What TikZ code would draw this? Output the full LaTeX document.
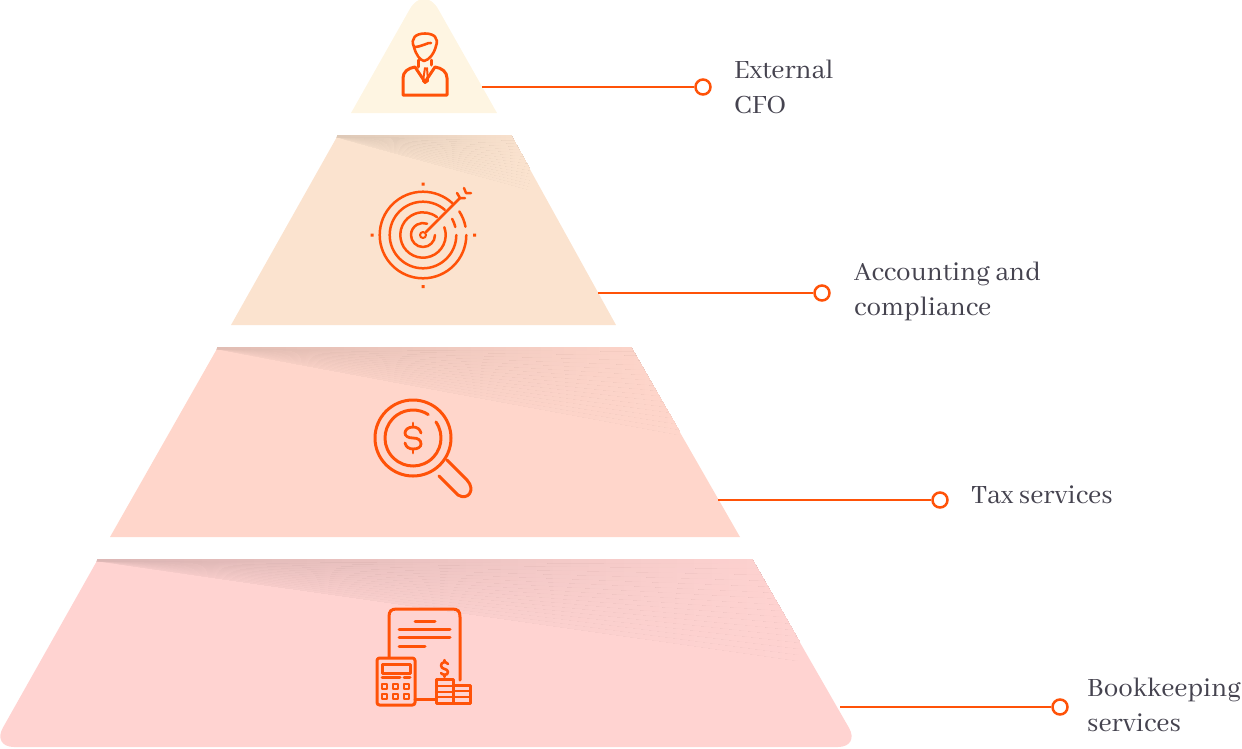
\documentclass[tikz,border=0pt]{standalone}
\usepackage{fontspec}
\setmainfont{Abhaya Libre}
\definecolor{ic}{HTML}{FF5208}
\definecolor{txt}{HTML}{45434F}
\definecolor{ta}{HTML}{FEF5E2}
\definecolor{tb}{HTML}{FBE3CF}
\definecolor{tc}{HTML}{FFD6CB}
\definecolor{td}{HTML}{FFD3D1}
\tikzset{
  conn/.style={draw=ic,line width=2.5pt},
  dot/.style={circle,draw=ic,line width=2.5pt,fill=white,minimum size=15pt,inner sep=0pt},
  lab/.style={anchor=north west,align=left,text=txt,font=\fontsize{29}{35}\selectfont,inner sep=0pt},
  ico/.style={draw=ic,line width=3pt,line cap=round,line join=round},
}
% soft shadow: nested wedges from the top-left corner, darkening upward and fading to the right
% args: tier colour, x0, y0, x1, height, strength in percent
\newcommand{\tiershadow}[6]{%
  \foreach \t in {1,.94,.88,.82,.76,.7,.64,.58,.52,.46,.4,.34,.28,.22,.16,.1,.05}{%
    \begin{scope}
      \clip (#2,#3) -- (#4,#3) -- (#4,{#3+#5*\t}) -- (#2,{#3+2}) -- cycle;
      \foreach \u in {0,.025,...,.975}{%
        \pgfmathsetmacro{\aa}{100-#6*(1-.7*\t)*(1-\u)}%
        \fill[#1!\aa!black] ({#2+\u*(#4-#2)},#3) rectangle (#4,{#3+#5});
      }
    \end{scope}
  }%
}
\begin{document}
\begin{tikzpicture}[x=1pt,y=-1pt]
\useasboundingbox (0,0) rectangle (1242,748);
% tiers
\fill[ta] (351,113) [rounded corners=29pt] -- (424,-16) [sharp corners] -- (497,113) -- cycle;
\fill[tb] (338,135) -- (511,135) -- (616,325) -- (231,325) -- cycle;
\fill[tc] (218,347) -- (631,347) -- (740,537) -- (110,537) -- cycle;
\fill[td] (98,559) -- (752,559) [rounded corners=22pt] -- (860,747) -- (-8,747) [sharp corners] -- cycle;
% shadows
\begin{scope}
\clip (338,135) -- (511,135) -- (616,325) -- (231,325) -- cycle;
\tiershadow{tb}{336}{135}{530}{55}{12}
\end{scope}
\begin{scope}
\clip (218,347) -- (631,347) -- (740,537) -- (110,537) -- cycle;
\tiershadow{tc}{216}{347}{680}{88}{12}
\end{scope}
\begin{scope}
\clip (98,559) -- (752,559) -- (860,747) -- (-8,747) -- cycle;
\tiershadow{td}{96}{559}{800}{102}{14}
\end{scope}
% connectors
\coordinate (e1) at (482,87);
\coordinate (e2) at (598,293);
\coordinate (e3) at (718,500);
\coordinate (e4) at (840,707);
\node[dot] (d1) at (703,87) {};
\node[dot] (d2) at (822,293) {};
\node[dot] (d3) at (940,500) {};
\node[dot] (d4) at (1060,707) {};
\draw[conn] (e1) -- (d1);
\draw[conn] (e2) -- (d2);
\draw[conn] (e3) -- (d3);
\draw[conn] (e4) -- (d4);
% labels
\node[lab] (l1) at (734,60) {External\\CFO};
\node[lab] (l2) at (854,262) {Accounting and\\compliance};
\node[lab] (l3) at (971,486) {Tax services};
\node[lab] (l4) at (1087,678) {Bookkeeping\\services};
% person icon
\draw[ico] (403,95) -- (403,78) .. controls (403,72) and (408,68) .. (415,67) -- (425,82) -- (435,67) .. controls (442,68) and (447,72) .. (447,78) -- (447,95) -- cycle;
\draw[ico] (418,60) -- (418,67) (431,60) -- (431,65);
\draw[ico,line width=2.6pt] (414,47) .. controls (410,38) and (416,33.5) .. (425,33.5) .. controls (434,33.5) and (439,38) .. (436,46) (414,47) .. controls (422,47) and (428,42) .. (431,43);
\draw[ico,line width=2.6pt] (414,47) .. controls (416,55) and (420,60) .. (424,61) .. controls (429,60) and (434,54) .. (436,46);
\draw[ico,line width=2pt] (425,68) -- (423,81) -- (425,83) -- (428,81) -- (427,68);
% target icon
\begin{scope}[shift={(423,235)},ico/.append style={line width=2.5pt}]
\draw[ico] (3,-3) -- (37,-37);
\draw[ico,line width=2pt] (0,0) circle (3);
\draw[ico] (0:12) arc[start angle=0,end angle=290,radius=12];
\draw[ico] (-20:22.7) arc[start angle=-20,end angle=308,radius=22.7];
\draw[ico] (0:33.3) arc[start angle=0,end angle=311,radius=33.3];
\draw[ico] (-29:33.3) arc[start angle=-29,end angle=-14,radius=33.3];
\draw[ico] (0:43.3) arc[start angle=0,end angle=313,radius=43.3];
\draw[ico] (-33:43.3) arc[start angle=-33,end angle=-11,radius=43.3];
\draw[ico] (34,-42) -- (37,-37) -- (42,-37) (41,-47) -- (43,-42) -- (48,-42);
\fill[ic] (-1.5,-52.5) rectangle (1.5,-49.5) (-1.5,50) rectangle (1.5,53) (-52.5,-1.5) rectangle (-49.5,1.5) (50,-1.5) rectangle (53,1.5);
\end{scope}
% magnifier icon
\begin{scope}[shift={(413,438)}]
\draw[ico] (0,0) circle (38);
\draw[ico] (-35:28) arc[start angle=-35,end angle=303,radius=28];
\draw[ico] (34,22) -- (54,42) .. controls (63,52) and (55,63) .. (45,57) -- (26,38);
\draw[ico,line width=2.8pt] (8,-5) .. controls (7,-9) and (4,-11) .. (0,-11) .. controls (-5,-11) and (-8,-8) .. (-8,-5) .. controls (-8,-2) and (-5,0) .. (0,0) .. controls (5,0) and (8,2) .. (8,6) .. controls (8,9) and (5,11) .. (0,11) .. controls (-4,11) and (-7,9) .. (-8,5);
\draw[ico,line width=2.8pt] (0,-15) -- (0,-11) (0,11) -- (0,15);
\end{scope}
% bookkeeping icon
\draw[ico] (389,657) -- (389,617) .. controls (389,611) and (391,609) .. (397,609) -- (452,609) .. controls (458,609) and (460,611) .. (460,617) -- (460,680);
\draw[ico] (415,621) -- (435,621) (399,629) -- (450,629) (399,637) -- (450,637) (399,646) -- (425,646);
\draw[ico,rounded corners=2.5pt] (377,658) rectangle (415,705);
\draw[ico] (382,664) rectangle (410,673);
\draw[ico] (382,677) -- (400,677) (404,677) -- (410,677);
\foreach \x in {382,393,404} \foreach \y in {684,694} \draw[ico,line width=2.6pt] (\x,\y) rectangle ++(5,5);
\draw[ico] (415,699) -- (436,699);
\draw[ico] (436,679) rectangle (453,703);
\draw[ico] (453,685) rectangle (470,703);
\draw[ico,line width=2.4pt] (436,686) -- (453,686) (436,692) -- (453,692) (436,697) -- (453,697) (453,691) -- (470,691) (453,697) -- (470,697);
\draw[ico,line width=2.6pt] (448,664) .. controls (446,661) and (441,662) .. (441,665.5) .. controls (441,670) and (448,668) .. (448,672) .. controls (448,676) and (442,675) .. (441,673);
\draw[ico,line width=2.2pt] (444.5,660) -- (444.5,662) (444.5,675) -- (444.5,677);
\end{tikzpicture}
\end{document}
